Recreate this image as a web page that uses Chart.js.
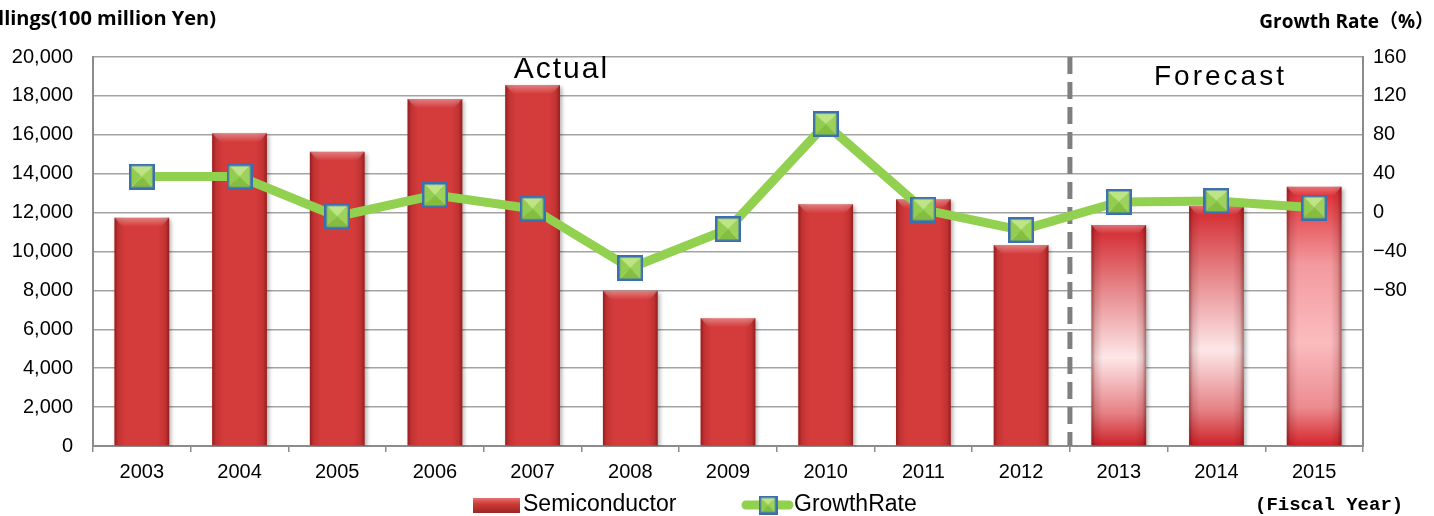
<!DOCTYPE html>
<html>
<head>
<meta charset="utf-8">
<title>Semiconductor Billings</title>
<script src="https://cdn.jsdelivr.net/npm/chart.js@4.4.1/dist/chart.umd.min.js"></script>
<style>
  html, body { margin: 0; padding: 0; background: #fff; }
</style>
</head>
<body>
<canvas id="billingsChart" width="1434" height="516"></canvas>
<script>
// Fiscal years and values (billings in 100 million yen, growth in %)
const fiscalYears = ['2003', '2004', '2005', '2006', '2007', '2008', '2009', '2010', '2011', '2012', '2013', '2014', '2015'];
const semiconductorBillings = [11740, 16080, 15130, 17840, 18560, 7980, 6570, 12430, 12680, 10330, 11360, 12340, 13330];
const growthRate = [37, 37, -4, 18, 4, -57, -17, 91, 3, -18, 11, 12, 5];
const forecastYears = ['2013', '2014', '2015'];

// Axis ranges: [min, max, step]
const billingsAxis = [0, 20000, 2000];
const growthAxis = [-240, 160, 40];
const lowestGrowthLabel = -80;

const SANS = '"Liberation Sans", Arial, sans-serif';
const TITLE_FONT = '"Open Sans", "Noto Sans CJK JP", sans-serif';

const isForecast = i => forecastYears.includes(fiscalYears[i]);

// Square marker with a pyramid-style shading
function makeMarker(size) {
  const c = document.createElement('canvas');
  c.width = size;
  c.height = size;
  const g = c.getContext('2d');
  const s = size, m = size / 2;
  const tri = (pts, color) => {
    g.beginPath();
    g.moveTo(pts[0][0], pts[0][1]);
    g.lineTo(pts[1][0], pts[1][1]);
    g.lineTo(pts[2][0], pts[2][1]);
    g.closePath();
    g.fillStyle = color;
    g.fill();
  };
  tri([[0, 0], [s, 0], [m, m]], '#bde585');
  tri([[s, 0], [s, s], [m, m]], '#9dd35c');
  tri([[0, s], [s, s], [m, m]], '#84be40');
  tri([[0, 0], [0, s], [m, m]], '#93cd50');
  g.lineWidth = 2.5;
  g.strokeStyle = '#3c6fb0';
  g.strokeRect(1.25, 1.25, s - 2.5, s - 2.5);
  return c;
}

const marker = makeMarker(26);
const legendMarker = makeMarker(19);

function barFill(ctx) {
  const chart = ctx.chart;
  if (!chart.chartArea || !chart.scales.y) return '#d43b3b';
  if (!isForecast(ctx.dataIndex)) return '#d43b3b';
  const y = chart.scales.y;
  const top = y.getPixelForValue(semiconductorBillings[ctx.dataIndex]);
  const bottom = y.getPixelForValue(0);
  const grad = chart.ctx.createLinearGradient(0, top, 0, bottom);
  if (fiscalYears[ctx.dataIndex] === '2015') {
    grad.addColorStop(0, '#dc2a30');
    grad.addColorStop(0.3, '#f39a9e');
    grad.addColorStop(0.6, '#fbbcbf');
    grad.addColorStop(0.85, '#ec8c90');
    grad.addColorStop(1, '#d4242b');
  } else {
    grad.addColorStop(0, '#d2262c');
    grad.addColorStop(0.3, '#e78a8d');
    grad.addColorStop(0.6, '#fde7e8');
    grad.addColorStop(0.85, '#e58185');
    grad.addColorStop(1, '#cd2128');
  }
  return grad;
}

// Shadow under the bars, plus darker edges and a lit top bevel
const barShading = {
  id: 'barShading',
  beforeDatasetDraw(chart, args) {
    if (args.meta.type !== 'bar') return;
    const ctx = chart.ctx;
    ctx.save();
    ctx.shadowColor = 'rgba(0,0,0,0.3)';
    ctx.shadowBlur = 4;
    ctx.shadowOffsetX = 2;
    ctx.shadowOffsetY = 2;
  },
  afterDatasetDraw(chart, args) {
    if (args.meta.type !== 'bar') return;
    const ctx = chart.ctx;
    ctx.restore();
    args.meta.data.forEach(bar => {
      const left = bar.x - bar.width / 2;
      const h = bar.base - bar.y;
      const edge = ctx.createLinearGradient(left, 0, left + bar.width, 0);
      edge.addColorStop(0, 'rgba(90,0,0,0.5)');
      edge.addColorStop(0.07, 'rgba(90,0,0,0.15)');
      edge.addColorStop(0.2, 'rgba(90,0,0,0)');
      edge.addColorStop(0.8, 'rgba(90,0,0,0)');
      edge.addColorStop(0.93, 'rgba(90,0,0,0.15)');
      edge.addColorStop(1, 'rgba(90,0,0,0.5)');
      ctx.fillStyle = edge;
      ctx.fillRect(left, bar.y, bar.width, h);
      const bevel = ctx.createLinearGradient(0, bar.y, 0, bar.y + 9);
      bevel.addColorStop(0, 'rgba(255,255,255,0.35)');
      bevel.addColorStop(1, 'rgba(255,255,255,0)');
      ctx.fillStyle = bevel;
      ctx.beginPath();
      ctx.moveTo(left, bar.y);
      ctx.lineTo(left + bar.width, bar.y);
      ctx.lineTo(left + bar.width - 8, bar.y + 9);
      ctx.lineTo(left + 8, bar.y + 9);
      ctx.closePath();
      ctx.fill();
    });
  }
};

// Dashed divider between actual and forecast years
const forecastDivider = {
  id: 'forecastDivider',
  beforeDatasetsDraw(chart) {
    const x = chart.scales.x;
    const i = fiscalYears.indexOf(forecastYears[0]);
    const px = (x.getPixelForValue(i - 1) + x.getPixelForValue(i)) / 2;
    const ctx = chart.ctx;
    ctx.save();
    ctx.strokeStyle = '#7f7f7f';
    ctx.lineWidth = 5;
    ctx.setLineDash([17, 8]);
    ctx.beginPath();
    ctx.moveTo(px, chart.chartArea.top);
    ctx.lineTo(px, chart.chartArea.bottom);
    ctx.stroke();
    ctx.restore();
  }
};

// Axis titles, section captions and the legend
const annotations = {
  id: 'annotations',
  afterDraw(chart) {
    const ctx = chart.ctx;
    const x = chart.scales.x;
    ctx.save();
    ctx.fillStyle = '#000';
    ctx.textBaseline = 'middle';

    ctx.font = 'bold 20px ' + TITLE_FONT;
    ctx.textAlign = 'right';
    ctx.fillText('Billings(100 million Yen)', 216, 19);
    ctx.font = 'bold 19px ' + TITLE_FONT;
    ctx.fillText('Growth Rate（%）', 1434, 23);

    ctx.textAlign = 'left';
    ctx.font = 'bold 19px "Liberation Mono", monospace';
    ctx.fillText('(Fiscal Year)', 1255, 505);

    // section captions
    ctx.textAlign = 'center';
    ctx.letterSpacing = '2px';
    ctx.font = '30px ' + SANS;
    ctx.fillText('Actual', (x.getPixelForValue(4) + x.getPixelForValue(5)) / 2 - 20, 70);
    ctx.letterSpacing = '3px';
    ctx.font = '28px ' + SANS;
    ctx.fillText('Forecast', x.getPixelForValue(11) + 4, 77);
    ctx.letterSpacing = '0px';

    // legend
    const ly = 505;
    const bars = chart.data.datasets[1];
    const line = chart.data.datasets[0];
    const icon = ctx.createLinearGradient(0, ly - 7, 0, ly + 8);
    icon.addColorStop(0, '#e97070');
    icon.addColorStop(0.4, '#cc3a36');
    icon.addColorStop(1, '#9a2623');
    ctx.fillStyle = icon;
    ctx.fillRect(473, ly - 7, 47, 15);
    ctx.fillStyle = '#000';
    ctx.textAlign = 'left';
    ctx.font = '23px ' + SANS;
    ctx.fillText(bars.label, 523, ly);

    ctx.strokeStyle = '#92d050';
    ctx.lineWidth = 9;
    ctx.lineCap = 'round';
    ctx.beginPath();
    ctx.moveTo(746, ly);
    ctx.lineTo(789, ly);
    ctx.stroke();
    ctx.drawImage(legendMarker, 768 - 9.5, ly - 9.5);
    ctx.fillText(line.label, 794, ly);
    ctx.restore();
  }
};

const tickFont = { family: SANS, size: 20 };

new Chart(document.getElementById('billingsChart'), {
  data: {
    labels: fiscalYears,
    datasets: [
      {
        type: 'line',
        label: 'GrowthRate',
        data: growthRate,
        yAxisID: 'y1',
        order: 1,
        borderColor: '#92d050',
        borderWidth: 9,
        tension: 0,
        pointStyle: marker,
        pointRadius: 13,
        pointHoverRadius: 13
      },
      {
        type: 'bar',
        label: 'Semiconductor',
        data: semiconductorBillings,
        yAxisID: 'y',
        order: 2,
        backgroundColor: barFill,
        borderWidth: 0,
        barPercentage: 0.7,
        categoryPercentage: 0.8
      }
    ]
  },
  options: {
    responsive: false,
    animation: false,
    layout: { padding: { top: 57, bottom: 30, left: 0, right: 0 } },
    plugins: {
      legend: { display: false },
      tooltip: { enabled: false }
    },
    scales: {
      x: {
        grid: { offset: true, drawOnChartArea: false, tickLength: 6, color: '#8c8c8c', lineWidth: 1.5 },
        border: { color: '#8c8c8c', width: 2 },
        ticks: { color: '#000', font: tickFont, padding: 8 },
        afterFit(scale) { scale.height = 40; }
      },
      y: {
        position: 'left',
        min: billingsAxis[0],
        max: billingsAxis[1],
        ticks: {
          stepSize: billingsAxis[2],
          color: '#000',
          font: tickFont,
          padding: 20,
          callback: v => v.toLocaleString('en-US')
        },
        grid: { color: '#a3a3a3', lineWidth: 1.5, drawTicks: false },
        border: { color: '#8c8c8c', width: 2 },
        afterFit(scale) { scale.width = 93; }
      },
      y1: {
        position: 'right',
        min: growthAxis[0],
        max: growthAxis[1],
        ticks: {
          stepSize: growthAxis[2],
          color: '#000',
          font: { family: SANS, size: 20 },
          padding: 10,
          callback: v => (v >= lowestGrowthLabel ? String(v).replace('-', '−') : '')
        },
        grid: { drawOnChartArea: false, drawTicks: false },
        border: { color: '#8c8c8c', width: 2 },
        afterFit(scale) { scale.width = 71; }
      }
    }
  },
  plugins: [barShading, forecastDivider, annotations]
});
</script>
</body>
</html>
